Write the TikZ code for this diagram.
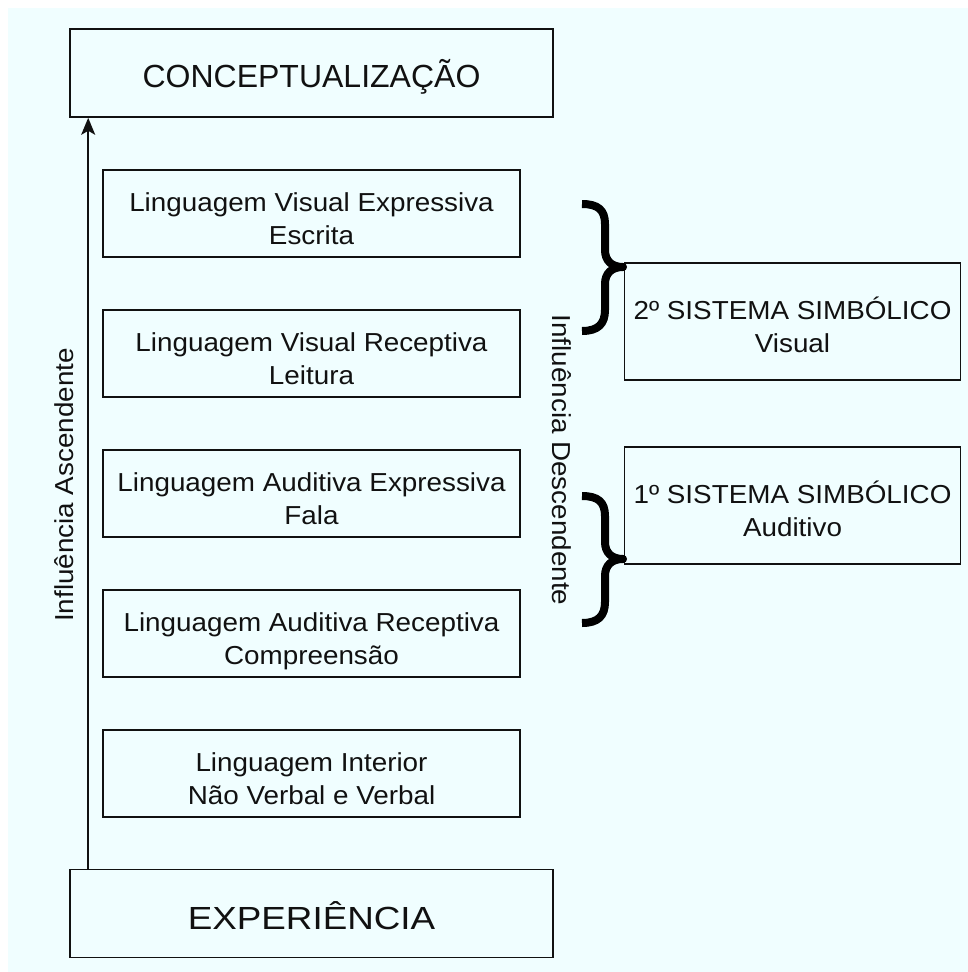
\documentclass[tikz,border=0pt]{standalone}
\usepackage{fontspec}
\setmainfont{Liberation Sans}
\newfontfamily\widefont[FakeStretch=1.07]{Liberation Sans}
\newfontfamily\wideexp[FakeStretch=1.15]{Liberation Sans}
\usetikzlibrary{arrows.meta}
\definecolor{bgcyan}{RGB}{240,254,255}
\definecolor{ink}{RGB}{17,17,17}
\newcommand{\boxtext}[2][8pt]{\raisebox{0pt}[\dimexpr\height+2\dimexpr#1\relax\relax][\depth]{\begin{tabular}{@{}c@{}}#2\end{tabular}}}
\begin{document}
\begin{tikzpicture}[x=1pt,y=-1pt,
  bigbox/.style={draw=ink,line width=1.6pt,minimum width=483pt,minimum height=88pt,inner sep=0pt,
    font=\fontsize{32}{38}\selectfont,text=ink},
  langbox/.style={draw=ink,line width=1.6pt,minimum width=417pt,minimum height=87pt,inner sep=0pt,
    font=\widefont\fontsize{26}{33}\selectfont,text=ink},
  sysbox/.style={draw=ink,line width=1.6pt,minimum width=336pt,minimum height=117pt,inner sep=0pt,
    font=\widefont\fontsize{26}{33}\selectfont,text=ink},
  sidelabel/.style={font=\widefont\fontsize{26}{30}\selectfont,text=ink,inner sep=0pt},
  bracepath/.style={line width=8pt,draw=black,line cap=butt,line join=round},
  uparrow/.style={draw=ink,line width=1.8pt,-{Stealth[length=17pt,width=14pt,inset=4pt]}}
]
\useasboundingbox (0,0) rectangle (968,972);
\fill[white] (0,0) rectangle (968,972);
\fill[bgcyan] (8,8) rectangle (968,972);

\node[bigbox] (top) at (311.5,73) {\boxtext[6pt]{CONCEPTUALIZAÇÃO}};
\node[langbox] (l1) at (311.5,213.5) {\boxtext{Linguagem Visual Expressiva\\Escrita}};
\node[langbox] (l2) at (311.5,353.5) {\boxtext{Linguagem Visual Receptiva\\Leitura}};
\node[langbox] (l3) at (311.5,493.5) {\boxtext{Linguagem Auditiva Expressiva\\Fala}};
\node[langbox] (l4) at (311.5,633.5) {\boxtext{Linguagem Auditiva Receptiva\\Compreensão}};
\node[langbox] (l5) at (311.5,773.5) {\boxtext{Linguagem Interior\\Não Verbal e Verbal}};
\node[bigbox] (exp) at (311.5,913.5) {\boxtext[8pt]{\wideexp EXPERIÊNCIA}};

\node[sysbox] (s2) at (792.5,321.5) {\boxtext{2º SISTEMA SIMBÓLICO\\Visual}};
\node[sysbox] (s1) at (792.5,505.5) {\boxtext{1º SISTEMA SIMBÓLICO\\Auditivo}};

\draw[uparrow] ([xshift=19pt]exp.north west) -- ([xshift=19pt]top.south west);

\node[sidelabel,rotate=90] (asc) at (64,485) {Influência Ascendente};
\node[sidelabel,rotate=-90] (desc) at (562,460) {Influência Descendente};

% upper brace
\draw[bracepath] (582,204) .. controls (598,204) and (605,210) .. (605,224)
  -- (605,250) .. controls (605,261) and (612,267) .. (623,267)
  .. controls (612,267) and (605,273) .. (605,284)
  -- (605,310) .. controls (605,324) and (598,331) .. (582,331);
% lower brace
\draw[bracepath] (582,496) .. controls (598,496) and (605,502) .. (605,516)
  -- (605,542) .. controls (605,553) and (612,559) .. (623,559)
  .. controls (612,559) and (605,565) .. (605,576)
  -- (605,602) .. controls (605,616) and (598,623) .. (582,623);
\end{tikzpicture}
\end{document}
